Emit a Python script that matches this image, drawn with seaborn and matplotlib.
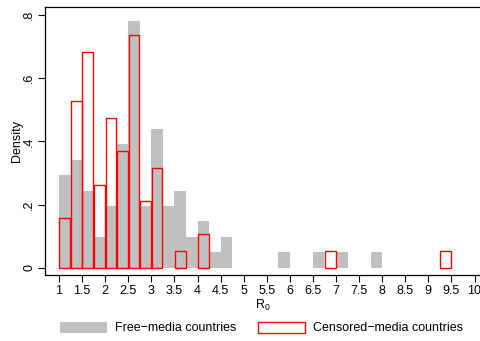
import numpy as np
import matplotlib
matplotlib.use("Agg")
import matplotlib.pyplot as plt
from matplotlib.patches import Patch
import seaborn as sns

# Bin lower edges (width 0.25) and country counts per bin
free_bin_lo = [1.0, 1.25, 1.5, 1.75, 2.0, 2.25, 2.5, 2.75, 3.0, 3.25,
               3.5, 3.75, 4.0, 4.25, 4.5, 5.75, 6.5, 7.0, 7.75]
free_counts = [6, 7, 5, 2, 4, 8, 16, 4, 9, 4, 5, 2, 3, 1, 2, 1, 1, 1, 1]

censored_bin_lo = [1.0, 1.25, 1.5, 1.75, 2.0, 2.25, 2.5, 2.75, 3.0,
                   3.5, 4.0, 6.75, 9.25]
censored_counts = [3, 10, 13, 5, 9, 7, 14, 4, 6, 1, 2, 1, 1]

x_ticks = [1, 1.5, 2, 2.5, 3, 3.5, 4, 4.5, 5, 5.5, 6, 6.5, 7, 7.5, 8,
           8.5, 9, 9.5, 10]
x_tick_labels = ["1", "1.5", "2", "2.5", "3", "3.5", "4", "4.5", "5", "5.5",
                 "6", "6.5", "7", "7.5", "8", "8.5", "9", "9.5", "10"]
y_ticks = [0, 0.2, 0.4, 0.6, 0.8]
y_tick_labels = ["0", ".2", ".4", ".6", ".8"]

BIN_W = 0.25
BIN_RANGE = (1.0, 9.5)
GRAY = "#C0C0C0"
RED = "#FF0000"
FS = 9.0

sns.set_style("ticks")
plt.rcParams["font.family"] = ["Liberation Sans", "DejaVu Sans"]
plt.rcParams["font.size"] = FS
plt.rcParams["mathtext.default"] = "regular"
plt.rcParams["text.color"] = "black"
plt.rcParams["axes.labelcolor"] = "black"
plt.rcParams["xtick.color"] = "black"
plt.rcParams["ytick.color"] = "black"

fig = plt.figure(figsize=(4.81, 3.41), dpi=100)
ax = fig.add_axes([45 / 481, 1 - 275 / 341, 1 - 45 / 481, (275 - 7) / 341])

free_mid = np.array(free_bin_lo) + BIN_W / 2
cens_mid = np.array(censored_bin_lo) + BIN_W / 2

sns.histplot(x=free_mid, weights=free_counts, binwidth=BIN_W,
             binrange=BIN_RANGE, stat="density", color=GRAY,
             alpha=1, linewidth=0, ax=ax)
sns.histplot(x=cens_mid, weights=censored_counts, binwidth=BIN_W,
             binrange=BIN_RANGE, stat="density", fill=False,
             color=RED, linewidth=1.0, shrink=0.93, ax=ax)

# empty bins would otherwise leave a flat outline on the baseline
for p in list(ax.patches):
    if p.get_height() <= 0:
        p.remove()

ax.set_xlim(1 - 14 / 46.17, 1 + (481 - 59) / 46.17)
ax.set_ylim(-7.3 / 315.9, 0.8 + 8 / 315.9)

ax.set_xticks(x_ticks)
ax.set_xticklabels(x_tick_labels)
ax.set_yticks(y_ticks)
ax.set_yticklabels(y_tick_labels, rotation=90, va="center")

ax.tick_params(axis="both", length=5, width=0.8, color="black",
               labelsize=FS, pad=2)
for side in ("left", "bottom", "top"):
    ax.spines[side].set_visible(True)
    ax.spines[side].set_color("black")
    ax.spines[side].set_linewidth(0.9)
ax.spines["right"].set_visible(False)

ax.set_xlabel("R$_{0}$", fontsize=FS, labelpad=1)
ax.set_ylabel("Density", fontsize=FS, labelpad=0)

handles = [
    Patch(facecolor=GRAY, edgecolor=GRAY, linewidth=0,
          label="Free\u2212media countries"),
    Patch(facecolor="white", edgecolor=RED, linewidth=1.0,
          label="Censored\u2212media countries"),
]
fig.legend(handles=handles, loc="center", ncol=2, frameon=False,
           bbox_to_anchor=(261.5 / 481, 1 - 328 / 341),
           handlelength=3.75, handleheight=1.0, handletextpad=0.65,
           columnspacing=1.75, fontsize=FS)

fig.savefig("out.png", dpi=100)
